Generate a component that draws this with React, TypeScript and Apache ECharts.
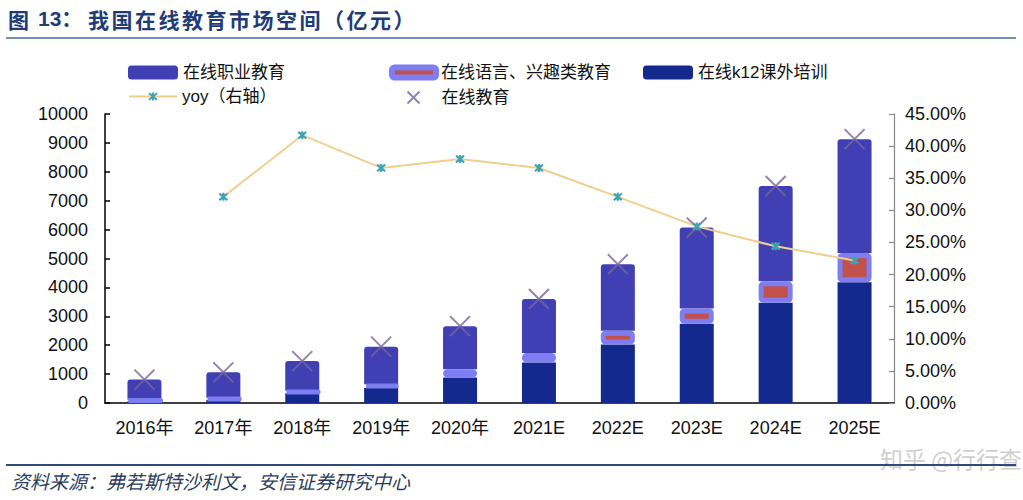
import React, { useEffect, useRef } from "react";
import * as echarts from "echarts";

const categories = ["2016年", "2017年", "2018年", "2019年", "2020年", "2021E", "2022E", "2023E", "2024E", "2025E"];
const k12 = [60, 100, 340, 520, 880, 1400, 2020, 2740, 3470, 4180];
const language = [60, 80, 80, 130, 290, 330, 480, 530, 740, 1010];
const vocational = [690, 880, 1030, 1300, 1490, 1870, 2300, 2800, 3300, 3940];
const total = [810, 1060, 1450, 1950, 2660, 3600, 4800, 6070, 7510, 9130];
const yoy: (number | string)[] = ["-", 32.1, 41.7, 36.6, 38.0, 36.6, 32.1, 27.5, 24.4, 22.2];

const NAME_VOC = "在线职业教育";
const NAME_LANG = "在线语言、兴趣类教育";
const NAME_K12 = "在线k12课外培训";
const NAME_YOY = "yoy（右轴）";
const NAME_TOTAL = "在线教育";

const TITLE_MAIN = "我国在线教育市场空间（亿元）";
const SOURCE = "资料来源：弗若斯特沙利文，安信证券研究中心";

const FONT = '"Liberation Sans", Arial, "Noto Sans CJK SC", sans-serif';
const C_VOC = "#4040b4";
const C_K12 = "#13298e";
const C_LANG_FILL = "#c4504c";
const C_LANG_BORDER = "#7d7ef2";
const C_YOY = "#f0cf8e";
const C_YOY_MARK = "#3fa3b3";
const C_X = "#75679c";
const C_TITLE = "#1f3c78";

const X_PATH = "path://M0,0 L10,10 M10,0 L0,10";
const STAR_PATH = "path://M0,0 L10,10 M10,0 L0,10 M5,-1 L5,11";

export default function App() {
  const ref = useRef<HTMLDivElement>(null);
  useEffect(() => {
    if (!ref.current) return;
    const chart = echarts.init(ref.current, undefined, { renderer: "svg" });
    const legendText = { fontSize: 17, color: "#111", fontFamily: FONT };

    const titleChars: any[] = [
      {
        type: "text", left: 8, top: 8,
        style: { text: "图", fontSize: 21, fontWeight: "bold", fill: C_TITLE, fontFamily: '"Noto Sans CJK SC", sans-serif' },
      },
      {
        type: "text", left: 38, top: 8,
        style: { text: "13：", fontSize: 21, fontWeight: "bold", fill: C_TITLE, fontFamily: FONT },
      },
    ];
    Array.from(TITLE_MAIN).forEach((ch, i) => {
      titleChars.push({
        type: "text", left: 88 + i * 23.5, top: 8,
        style: { text: ch, fontSize: 21, fontWeight: "bold", fill: C_TITLE, fontFamily: '"Noto Sans CJK SC", sans-serif' },
      });
    });

    const option: any = {
      animation: false,
      backgroundColor: "#fff",
      textStyle: { fontFamily: FONT },
      grid: { left: 105, right: 129, top: 114, bottom: 97, containLabel: false },
      legend: [
        {
          data: [NAME_VOC], left: 128, top: 64, itemWidth: 50, itemHeight: 14, padding: 0,
          itemGap: 5, textStyle: legendText, selectedMode: false, icon: "roundRect",
        },
        {
          data: [{ name: NAME_LANG, itemStyle: { color: C_LANG_FILL, borderColor: C_LANG_BORDER, borderWidth: 6 } }],
          left: 389, top: 64, itemWidth: 44, itemHeight: 10, padding: 0,
          itemGap: 5, textStyle: legendText, selectedMode: false, icon: "roundRect",
        },
        {
          data: [NAME_K12], left: 643, top: 64, itemWidth: 50, itemHeight: 14, padding: 0,
          itemGap: 5, textStyle: legendText, selectedMode: false, icon: "roundRect",
        },
        {
          data: [NAME_YOY], left: 128, top: 88, itemWidth: 48, itemHeight: 10, padding: 0,
          itemGap: 5, textStyle: legendText, selectedMode: false,
        },
        {
          data: [NAME_TOTAL], left: 405, top: 89, itemWidth: 12, itemHeight: 12, padding: 0,
          itemGap: 5, textStyle: { ...legendText, padding: [0, 0, 0, 17] }, selectedMode: false,
        },
      ],
      xAxis: {
        type: "category",
        data: categories,
        boundaryGap: true,
        axisLine: { lineStyle: { color: "#000", width: 1.5 } },
        axisTick: { inside: true, length: 6, lineStyle: { color: "#000", width: 1.5 } },
        axisLabel: { fontSize: 18, color: "#111", margin: 16, fontFamily: FONT },
      },
      yAxis: [
        {
          type: "value", min: 0, max: 10000, interval: 1000,
          axisLine: { show: true, lineStyle: { color: "#000", width: 1.5 } },
          axisTick: { show: true, inside: true, length: 5, lineStyle: { color: "#000", width: 1.5 } },
          axisLabel: {
            fontSize: 18, color: "#111", margin: 17, fontFamily: FONT,
            formatter: (v: number) => String(v),
          },
          splitLine: { show: false },
        },
        {
          type: "value", min: 0, max: 45, interval: 5, position: "right",
          axisLine: { show: true, lineStyle: { color: "#888", width: 1.2 } },
          axisTick: { show: true, inside: true, length: 5, lineStyle: { color: "#888", width: 1.2 } },
          axisLabel: {
            fontSize: 18, color: "#111", margin: 11, fontFamily: FONT,
            formatter: (v: number) => v.toFixed(2) + "%",
          },
          splitLine: { show: false },
        },
      ],
      series: [
        {
          name: NAME_K12, type: "bar", stack: "s", barWidth: 34, z: 2,
          itemStyle: { color: C_K12 },
          data: k12,
        },
        {
          name: NAME_LANG, type: "bar", stack: "s", barWidth: 34, z: 4,
          itemStyle: { color: C_LANG_FILL, borderColor: C_LANG_BORDER, borderWidth: 5, borderJoin: "round", borderRadius: 2 },
          data: language,
        },
        {
          name: NAME_VOC, type: "bar", stack: "s", barWidth: 34, z: 2,
          itemStyle: { color: C_VOC, borderRadius: [3, 3, 0, 0] },
          data: vocational,
        },
        {
          name: NAME_TOTAL, type: "scatter", z: 6,
          symbol: X_PATH, symbolSize: 20,
          itemStyle: { color: "none", borderColor: C_X, borderWidth: 2 },
          data: total,
        },
        {
          name: NAME_YOY, type: "line", yAxisIndex: 1, z: 8,
          symbol: STAR_PATH, symbolSize: 8, showSymbol: true,
          lineStyle: { color: C_YOY, width: 2 },
          itemStyle: { color: C_YOY_MARK, borderColor: C_YOY_MARK, borderWidth: 2.2 },
          data: yoy,
        },
      ],
      graphic: [
        ...titleChars,
        {
          type: "line", shape: { x1: 6, y1: 38, x2: 1016, y2: 38 },
          style: { stroke: "#4a6a9c", lineWidth: 1.5 },
        },
        {
          type: "line", shape: { x1: 6, y1: 465, x2: 1016, y2: 465 },
          style: { stroke: "#2f4b7c", lineWidth: 2 },
        },
        {
          type: "text", left: 11, top: 471,
          style: {
            text: SOURCE,
            fontSize: 19, fontStyle: "italic", fill: "#2c3d5c",
            fontFamily: '"Noto Sans CJK SC", sans-serif',
          },
        },
        {
          type: "text", left: 880, top: 446, z: -1,
          style: {
            text: "知乎 @行行查",
            fontSize: 23, fill: "#cfcfcf",
            fontFamily: '"Noto Sans CJK SC", sans-serif',
          },
        },
      ],
    };
    chart.setOption(option);
    return () => chart.dispose();
  }, []);
  return (
    <div
      ref={ref}
      style={{ position: "fixed", left: 0, top: 0, width: 1023, height: 500, background: "#fff" }}
    />
  );
}
